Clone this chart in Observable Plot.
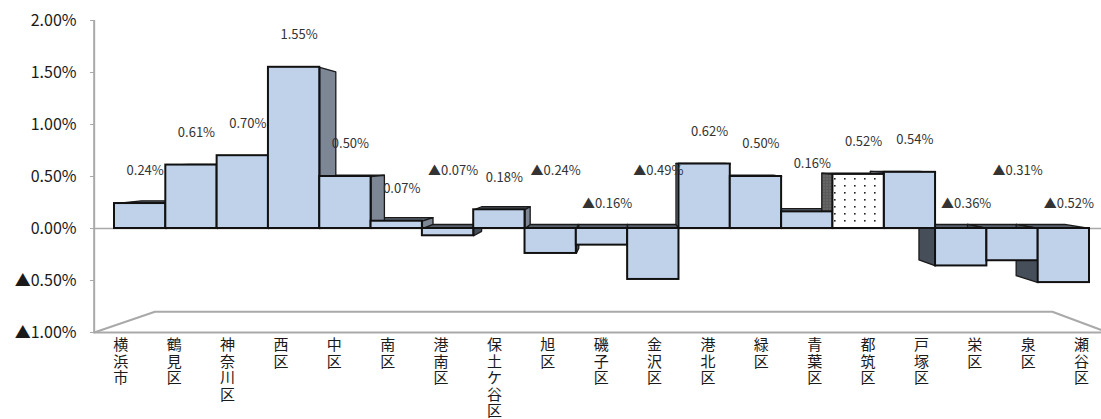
<!DOCTYPE html>
<html><head><meta charset="utf-8">
<script src="https://cdn.jsdelivr.net/npm/d3@7"></script>
<script src="https://cdn.jsdelivr.net/npm/@observablehq/plot@0.6"></script>
<style>
body{margin:0;background:#fff;}
#chart svg{font-family:"Noto Sans CJK JP","Noto Sans",sans-serif;}
</style>
</head><body><div id="chart"></div>
<script>
// ---- data ----
const wards = ["横浜市","鶴見区","神奈川区","西区","中区","南区","港南区","保土ケ谷区","旭区","磯子区","金沢区","港北区","緑区","青葉区","都筑区","戸塚区","栄区","泉区","瀬谷区"];
const rates = [0.24,0.61,0.70,1.55,0.50,0.07,-0.07,0.18,-0.24,-0.16,-0.49,0.62,0.50,0.16,0.52,0.54,-0.36,-0.31,-0.52];
const yTicks = [-1,-0.5,0,0.5,1,1.5,2];
const patterned = ["都筑区"];

// ---- perspective constants (layout only) ----
const U0 = 9.9, V0 = 0.73;        // vanishing point in data units
const DEPTH = 0.947;              // bar back face vs front face
const FRONT = 1.04;               // floor front edge vs bar front plane
const FLOOR_DEPTH = 0.885;        // floor back edge vs floor front edge
const proj = (u, v, s) => [U0 + (u - U0) * s, V0 + (v - V0) * s];

const fmt = d => (d < 0 ? "▲" + (-d).toFixed(2) : d.toFixed(2)) + "%";
const data = wards.map((name, i) => ({name, i, v: rates[i], pat: patterned.includes(name)}));
const n = wards.length;

// label placement rule: positive above the bar (clearing a taller neighbour's face),
// negative above the zero line, alternating high/low within runs of negatives
let runPos = 0, runStart = 0;
data.forEach((d, i) => {
  if (d.v >= 0) {
    runPos = 0;
    const next = data[i + 1];
    d.ly = d.v + 0.31;
    if (next && i + 1 > U0 && next.v > d.v) d.ly = Math.max(d.ly, next.v + 0.1);
  } else {
    if (runPos === 0) runStart = i > U0 ? 1 : 0;
    d.ly = (runPos + runStart) % 2 === 0 ? 0.55 : 0.24;
    runPos++;
  }
});

// faces (side & top) derived from the values
const faces = [];
data.forEach(d => {
  const {i, v} = d, x0 = i, x1 = i + 1;
  const back = (u, y) => proj(u, y, DEPTH);
  const poly = (pts, tone) => {
    pts.push(pts[0]);
    pts.forEach(([x, y]) => faces.push({id: i + tone, tone, x, y}));
  };
  const sideTone = d.pat ? "pat" : (v >= 0 ? "high" : "low");
  if (x1 <= U0) poly([[x1, 0], [x1, v], back(x1, v), back(x1, 0)], sideTone);
  else if (x0 >= U0) poly([[x0, 0], [x0, v], back(x0, v), back(x0, 0)], sideTone);
  const capY = v >= 0 ? v : 0;
  if (capY < V0) poly([[x0, capY], [x1, capY], back(x1, capY), back(x0, capY)], "top");
});

// floor geometry
const fl = [U0 + (0 - U0) * FRONT, -1];
const fr = [U0 + (n - U0) * FRONT, -1];
const bl = [U0 + (fl[0] - U0) * FLOOR_DEPTH, V0 + (-1 - V0) * FLOOR_DEPTH];
const br = [U0 + (fr[0] - U0) * FLOOR_DEPTH, bl[1]];
const floorPath = [fl, bl, br, fr].map(([x, y]) => ({x, y}));

const faceMark = (tone, fill) => Plot.line(faces.filter(f => f.tone === tone), {
  x: "x", y: "y", z: "id", fill, stroke: "#1a1a1a", strokeWidth: 1.3, curve: "linear", strokeLinejoin: "round"
});

const chart = Plot.plot({
  width: 1101,
  height: 419,
  marginLeft: 114,
  marginRight: 12,
  marginTop: 20,
  marginBottom: 87,
  style: {background: "#fff", color: "#1a1a1a"},
  x: {type: "linear", domain: [0, n], axis: null},
  y: {domain: [-1, 2], axis: null},
  marks: [
    // floor & axis lines
    Plot.line(floorPath, {x: "x", y: "y", stroke: "#a9a9a9", strokeWidth: 2}),
    Plot.ruleY([-1], {x1: fl[0], x2: fr[0], stroke: "#a9a9a9", strokeWidth: 2}),
    Plot.ruleX([fl[0]], {y1: -1, y2: 2, stroke: "#a9a9a9", strokeWidth: 2}),
    Plot.ruleY([0], {x1: fl[0], x2: fr[0], stroke: "#a9a9a9", strokeWidth: 1.5}),
    Plot.axisY({ticks: yTicks, tickFormat: fmt, tickSize: 4, tickPadding: 14, dx: -20, fontSize: 16, stroke: "#a9a9a9", fill: "#1a1a1a", label: null}),
    // depth faces
    faceMark("top", "#59626e"),
    faceMark("high", "#7c8695"),
    faceMark("low", "#464e59"),
    faceMark("pat", "url(#darkdots)"),
    // front faces
    Plot.rect(data.filter(d => !d.pat), {x1: "i", x2: d => d.i + 1, y1: 0, y2: "v", fill: "#bfd2ea", stroke: "#111", strokeWidth: 2}),
    Plot.rect(data.filter(d => d.pat), {x1: "i", x2: d => d.i + 1, y1: 0, y2: "v", fill: "url(#dots)", stroke: "#111", strokeWidth: 2}),
    // value labels
    Plot.text(data, {x: d => d.i + 0.5, y: "ly", dx: 5, text: d => fmt(d.v), fontSize: 13, fill: "#333"}),
    // category labels (stacked vertically, one character per line)
    Plot.text(data, {x: d => U0 + (d.i + 0.5 - U0) * FRONT, y: -1, dy: 6, text: d => [...d.name].join("\n"), lineAnchor: "top", fontSize: 15, lineHeight: 1.1, fill: "#1a1a1a"})
  ]
});

// patterns
const ns = "http://www.w3.org/2000/svg";
const defs = document.createElementNS(ns, "defs");
defs.innerHTML = `
<pattern id="dots" patternUnits="userSpaceOnUse" width="10" height="7">
  <rect width="10" height="7" fill="#ffffff"/>
  <rect x="4" y="3" width="1.6" height="1.6" fill="#222"/>
</pattern>
<pattern id="darkdots" patternUnits="userSpaceOnUse" width="3" height="3">
  <rect width="3" height="3" fill="#5a5a5a"/>
  <rect x="1" y="1" width="1" height="1" fill="#8a8a8a"/>
</pattern>`;
chart.insertBefore(defs, chart.firstChild);
document.getElementById("chart").appendChild(chart);
</script>
</body></html>
